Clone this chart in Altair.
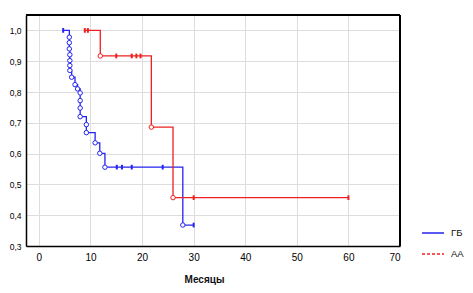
import altair as alt
import pandas as pd

# ---- data ----
groups = ["ГБ", "АА"]
colors = ["#2424f0", "#f02020"]

gb_start_t = 4.7
gb_end_t = 30.0
gb_event_t = [5.9, 5.9, 5.9, 6.0, 6.0, 6.0, 6.0, 6.35, 7.0, 7.5, 8.0, 8.0, 8.0, 8.0, 9.2, 9.2, 10.9, 11.8, 12.8, 27.9]
gb_event_s = [0.978, 0.96, 0.94, 0.921, 0.902, 0.886, 0.87, 0.848, 0.824, 0.81, 0.797, 0.772, 0.748, 0.72, 0.694, 0.668, 0.635, 0.601, 0.556, 0.368]
gb_cens_t = [4.7, 15.1, 16.1, 18.0, 24.0, 30.0]
gb_cens_s = [1.0, 0.556, 0.556, 0.556, 0.556, 0.368]

aa_start_t = 8.9
aa_end_t = 60.0
aa_event_t = [11.9, 21.8, 26.0]
aa_event_s = [0.917, 0.686, 0.457]
aa_cens_t = [8.9, 9.5, 15.0, 18.0, 18.9, 19.7, 30.0, 60.0]
aa_cens_s = [1.0, 1.0, 0.917, 0.917, 0.917, 0.917, 0.457, 0.457]

x_ticks = [0, 10, 20, 30, 40, 50, 60, 70]
y_ticks = [0.3, 0.4, 0.5, 0.6, 0.7, 0.8, 0.9, 1.0]
x_domain = [-2.5, 70]
y_domain = [0.3, 1.05]

# ---- tables ----
def line_rows(name, col, st, et, ts, ss):
    rows = [dict(g=name, c=col, t=st, s=1.0, o=0)]
    for i, (t, s) in enumerate(zip(ts, ss)):
        rows.append(dict(g=name, c=col, t=t, s=s, o=i + 1))
    rows.append(dict(g=name, c=col, t=et, s=ss[-1], o=len(ts) + 1))
    return rows

lines = pd.DataFrame(
    line_rows(groups[0], colors[0], gb_start_t, gb_end_t, gb_event_t, gb_event_s)
    + line_rows(groups[1], colors[1], aa_start_t, aa_end_t, aa_event_t, aa_event_s)
)
events = pd.DataFrame(
    [dict(g=groups[0], c=colors[0], t=t, s=s) for t, s in zip(gb_event_t, gb_event_s)]
    + [dict(g=groups[1], c=colors[1], t=t, s=s) for t, s in zip(aa_event_t, aa_event_s)]
)
cens = pd.DataFrame(
    [dict(g=groups[0], c=colors[0], t=t, s=s) for t, s in zip(gb_cens_t, gb_cens_s)]
    + [dict(g=groups[1], c=colors[1], t=t, s=s) for t, s in zip(aa_cens_t, aa_cens_s)]
)

FONT = "Liberation Sans"

xscale = alt.Scale(domain=x_domain, nice=False, zero=False)
yscale = alt.Scale(domain=y_domain, nice=False, zero=False)

xenc = alt.X("t:Q", scale=xscale, axis=alt.Axis(
    values=x_ticks, tickCount=20, title="Месяцы", grid=True, ticks=False, labelPadding=6,
    labelOverlap=False, titlePadding=12, titleX=178, titleFontWeight="bold",
    titleFontSize=10, titleColor="#111", domainColor="#000", domainWidth=1.5))
yenc = alt.Y("s:Q", scale=yscale, axis=alt.Axis(
    values=y_ticks, tickCount=20, title=None, grid=True, ticks=False, labelPadding=5,
    labelOverlap=False, labelFontSize=8.5,
    labelExpr="replace(format(datum.value, '.1f'), '.', ',')",
    domainColor="#000", domainWidth=1.5))

line_layer = alt.Chart(lines).mark_line(interpolate="step-after", strokeWidth=1.3).encode(
    x=xenc, y=yenc, detail="g:N", order="o:Q",
    color=alt.Color("c:N", scale=None))

event_layer = alt.Chart(events).mark_point(shape="circle", size=20, filled=True,
                                            fill="white", strokeWidth=1, opacity=1).encode(
    x="t:Q", y="s:Q", stroke=alt.Stroke("c:N", scale=None))

cens_layer = alt.Chart(cens).mark_point(shape="M0,-1L0,1", size=22, strokeWidth=2, opacity=1).encode(
    x="t:Q", y="s:Q", stroke=alt.Stroke("c:N", scale=None))

# frame: top and right edges of the plot box
top_edge = alt.Chart(lines).mark_rule(color="#000", strokeWidth=1.6).encode(
    y=alt.datum(y_domain[1]), x=alt.value(0), x2=alt.value(374))
right_edge = alt.Chart(lines).mark_rule(color="#000", strokeWidth=1.6).encode(
    x=alt.datum(x_domain[1]), y=alt.value(0), y2=alt.value(231))

legend_layer = alt.Chart(lines).transform_filter("false").mark_line().encode(
    x="t:Q", y="s:Q",
    color=alt.Color("g:N", scale=alt.Scale(domain=groups, range=colors), title=None,
                    legend=alt.Legend(orient="none", legendX=395, legendY=206,
                                      symbolType="stroke", symbolSize=484, symbolStrokeWidth=1.6,
                                      labelFontSize=9.5, labelColor="#111", labelFont=FONT,
                                      labelOffset=6, rowPadding=4, padding=0)),
    strokeDash=alt.StrokeDash("g:N", scale=alt.Scale(domain=groups, range=[[1, 0], [3, 2]]),
                              title=None, legend=alt.Legend(orient="none", legendX=395, legendY=206)),
)

chart = alt.layer(line_layer, event_layer, cens_layer, top_edge, right_edge, legend_layer).properties(
    width=374, height=231,
    autosize=alt.AutoSizeParams(type="none"),
    padding={"left": 18, "top": 7, "right": 65, "bottom": 39},
).configure_view(stroke="#000", strokeWidth=1.5).configure_axis(
    labelFont=FONT, titleFont=FONT, labelFontSize=9, labelColor="#666",
    gridColor="#c8c8c8", gridDash=[2, 2], gridWidth=1,
).configure(background="white")

chart.save("out.html", embed_options={"renderer": "svg", "actions": False})
